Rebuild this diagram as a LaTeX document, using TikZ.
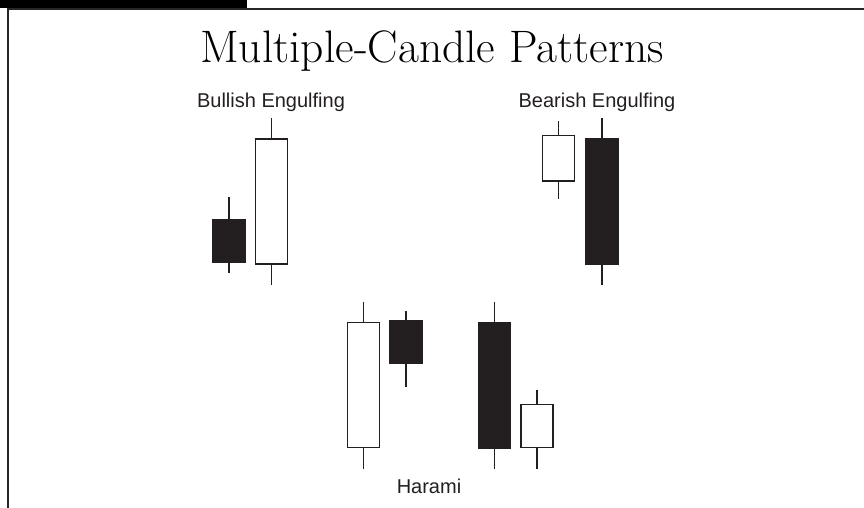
\documentclass[tikz,border=0pt]{standalone}
\usepackage{fontspec}
\newfontfamily\labelfont{Liberation Sans}
\definecolor{inkblack}{RGB}{35,31,32}

\begin{document}
\begin{tikzpicture}[x=1pt,y=-1pt,
  body/.style={draw=inkblack,line width=1.3pt},
  wick/.style={draw=inkblack,line width=1.3pt},
  caption/.style={font=\labelfont\fontsize{20}{24}\selectfont,anchor=base,text=inkblack}]
\useasboundingbox (0,0) rectangle (864,508);

% Black tab and frame
\fill[black] (0,0) rectangle (247,8);
\draw[line width=2pt,black!85] (7.5,508) -- (7.5,9.5) -- (864,9.5);

% Title
\node[font=\fontsize{45.5}{52}\selectfont,anchor=base] (title) at (432,62.5) {Multiple-Candle Patterns};

% Bullish engulfing
\node[caption] (bulllabel) at (271,108) {Bullish Engulfing};
\draw[wick] (229,197) -- (229,273);
\draw[body,fill=inkblack] (213,220) rectangle (245,262.5);
\draw[wick] (271.5,118) -- (271.5,285);
\draw[body,fill=white] (255.5,139) rectangle (287.5,264);

% Bearish engulfing
\node[caption] (bearlabel) at (597,108) {Bearish Engulfing};
\draw[wick] (558.5,121.5) -- (558.5,198.5);
\draw[body,fill=white] (542.5,135.5) rectangle (574.5,181);
\draw[wick] (602,118) -- (602,285);
\draw[body,fill=inkblack] (586,138.5) rectangle (618,264.5);

% Harami
\node[caption] (haramilabel) at (429,493) {Harami};
\draw[wick] (363.5,301.5) -- (363.5,469);
\draw[body,fill=white] (347.5,322.5) rectangle (379.5,447.5);
\draw[wick] (406,310.5) -- (406,386.5);
\draw[body,fill=inkblack] (390,321) rectangle (422,363.5);
\draw[wick] (494.5,301.5) -- (494.5,469);
\draw[body,fill=inkblack] (478.5,322.5) rectangle (510.5,448);
\draw[wick] (537,390) -- (537,469);
\draw[body,fill=white] (521,404.5) rectangle (553,447.5);
\end{tikzpicture}
\end{document}
